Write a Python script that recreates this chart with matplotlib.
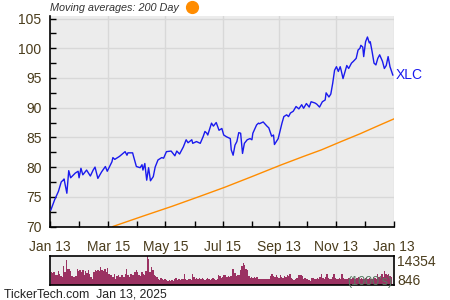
import numpy as np
import matplotlib
matplotlib.use("Agg")
import matplotlib.pyplot as plt
from matplotlib.lines import Line2D

plt.rcParams['font.family'] = ['Liberation Sans', 'DejaVu Sans']

# price trace: day offset from Jan 13 2024, close
price_days = [1, 5, 9, 12, 14, 15, 18, 20, 22, 27, 30, 31, 33, 35, 39, 43, 46, 48, 51, 55,
              59, 61, 66, 67, 69, 74, 80, 82, 83, 88, 89, 92, 96, 98, 99, 101, 103, 105, 107, 110,
              112, 115, 119, 121, 124, 129, 133, 135, 138, 142, 145, 147, 151, 152, 156, 160, 163, 165, 167, 168,
              172, 174, 177, 180, 183, 185, 188, 192, 193, 195, 197, 199, 201, 203, 205, 207, 210, 213, 215, 216,
              220, 222, 223, 227, 231, 233, 236, 238, 239, 243, 247, 249, 252, 254, 256, 259, 262, 265, 268, 270,
              273, 276, 278, 282, 284, 287, 290, 293, 294, 297, 299, 301, 303, 305, 307, 309, 310, 312, 315, 316,
              318, 321, 323, 326, 328, 330, 331, 333, 334, 336, 338, 340, 341, 343, 345, 347, 349, 351, 354, 356,
              358, 360, 362, 365]
price = [72.8, 74.5, 75.9, 77.5, 77.8, 78.0, 75.6, 79.4, 78.2, 79.0, 79.3, 78.2, 79.8, 78.7, 79.5, 78.5, 79.5, 80.0, 78.1, 79.2,
         80.1, 79.3, 80.9, 81.6, 81.3, 81.8, 82.6, 82.0, 82.4, 82.4, 81.8, 80.1, 79.9, 80.4, 79.5, 80.6, 77.8, 79.9, 77.7, 78.4,
         80.0, 81.2, 81.6, 81.5, 82.6, 82.7, 81.9, 82.7, 82.2, 83.4, 84.6, 84.1, 84.6, 84.0, 84.3, 84.0, 85.1, 86.0, 85.7, 85.4,
         87.4, 86.9, 87.5, 86.2, 86.5, 85.4, 85.1, 84.8, 82.9, 82.0, 83.7, 84.3, 85.8, 85.7, 82.3, 84.0, 84.6, 84.8, 84.6, 85.7,
         87.1, 87.4, 87.3, 87.6, 86.9, 86.6, 85.2, 85.4, 83.8, 84.8, 87.4, 88.5, 88.8, 88.5, 89.1, 89.4, 90.2, 89.8, 90.5, 89.9,
         90.7, 90.1, 91.0, 90.8, 90.6, 90.1, 91.0, 91.3, 92.5, 91.8, 92.3, 94.1, 96.3, 96.9, 96.1, 96.9, 96.3, 94.9, 96.6, 97.1,
         96.6, 97.5, 97.8, 98.3, 99.7, 100.0, 100.5, 100.2, 98.6, 101.1, 101.9, 100.9, 101.1, 99.4, 97.5, 97.2, 98.3, 98.9, 97.8, 96.6,
         97.1, 98.6, 96.9, 95.5]

# 200 day moving average
ma_days = [67, 100, 130, 160, 186, 215, 245, 270, 289, 310, 330, 350, 366]
ma = [70.0, 71.8, 73.4, 75.1, 76.6, 78.4, 80.3, 81.8, 82.9, 84.3, 85.6, 87.0, 88.1]

# daily volume, thousands
volume = [6600, 6300, 6600, 5300, 5300, 6900, 5700, 4600, 4200, 9600, 6600, 12500, 8200, 7900, 6900, 4600,
          4200, 4200, 4600, 7900, 6900, 7500, 6600, 7500, 5300, 6900, 6300, 7500, 5700, 4200, 3300, 6600,
          7500, 6900, 7500, 7000, 9000, 7500, 6900, 7900, 6600, 8600, 5700, 4900, 5300, 4200, 5700, 3300,
          4600, 5300, 4200, 5300, 4900, 4200, 5700, 8200, 4900, 4200, 5700, 5300, 4900, 6600, 7500, 6600,
          4900, 4600, 6600, 5700, 5300, 6900, 14354, 13200, 6600, 9000, 7500, 4900, 4600, 4200, 3300, 2400,
          3600, 3000, 2400, 3000, 2400, 1900, 2400, 1900, 2400, 1900, 3000, 3600, 2400, 3000, 2400, 3300,
          3000, 5700, 3300, 2400, 3300, 3000, 2400, 5700, 4200, 3000, 3600, 3300, 3600, 3000, 3600, 3300,
          2400, 3300, 3600, 3000, 2400, 3300, 3600, 3000, 2400, 3300, 5300, 4600, 3600, 4200,
          4900, 5300, 4200, 4600, 4200, 4600, 8200, 7900, 6300, 4600, 5300, 4900, 7500, 9600, 11200, 9900,
          7900, 7500, 4600, 3600, 4200, 3600, 4200, 3600, 4200, 3300, 3000, 3300, 3000, 3300, 3000, 3300,
          3000, 3300, 4600, 5700, 4600, 4200, 4900, 4200, 3600, 5300, 4200, 3600, 4600, 4200, 5300, 4600,
          5700, 3600, 3000, 2400, 3300, 3600, 4900, 4900, 4900, 4600, 3000, 3600, 3000, 3300, 2400, 1900,
          3600, 3600, 3000,
          3300, 3600, 3000, 4200, 5500, 3600, 3300, 4200, 5500, 3600, 3000, 3300, 4200, 5500, 3600, 3300,
          3000, 3600, 3300, 5500, 3600, 3000, 3300, 3000, 3600, 3300, 3000, 3600, 3300, 3000, 3600, 4200,
          3300, 3600, 3000, 3300, 3600, 4200, 3300, 3600, 3000, 3300, 4200, 3600, 3300, 5500, 4200, 3600,
          5500, 4200, 7000, 5700, 4900, 5500, 4600, 4200, 846]

tick_days = [0, 62, 123, 184, 244, 305, 366]
tick_labels = ['Jan 13', 'Mar 15', 'May 15', 'Jul 15', 'Sep 13', 'Nov 13', 'Jan 13']
minor_days = [31, 93, 154, 215, 274, 335]

label_col = '#4a3c1c'

fig = plt.figure(figsize=(4.5, 3), dpi=100)
ax = fig.add_axes([0.111, 0.243, 0.764, 0.703])
ax.set_facecolor('#ececec')
ax.plot(price_days, price, color='#1a1aee', lw=1.0, zorder=3)
ax.plot(ma_days, ma, color='#ff8c00', lw=1.0, zorder=2)
ax.set_xlim(0, 366)
ax.set_ylim(69.9, 105.4)
ax.set_yticks([70, 75, 80, 85, 90, 95, 100, 105])
ax.set_yticks([72.5, 77.5, 82.5, 87.5, 92.5, 97.5, 102.5], minor=True)
ax.set_xticks(tick_days)
ax.set_xticklabels(tick_labels)
ax.set_xticks(minor_days, minor=True)
ax.grid(True, which='major', color='#d8d8d8', lw=1.0)
ax.set_axisbelow(True)
for s in ['top', 'right']:
    ax.spines[s].set_visible(False)
for s in ['left', 'bottom']:
    ax.spines[s].set_color('black')
    ax.spines[s].set_linewidth(1.2)
ax.tick_params(axis='both', which='both', direction='in', length=4, width=1, colors='black',
               labelcolor=label_col, labelsize=10)
ax.tick_params(axis='x', pad=9)
ax.tick_params(axis='y', pad=6)
ax.text(366 + 2, price[-1], 'XLC', color='#1a1aee', fontsize=10, va='center', ha='left', clip_on=False)

# legend line at the top
fig.text(0.111, 0.972, 'Moving averages: 200 Day', fontsize=7.8, style='italic', color='#333333',
         va='center', ha='left')
fig.add_artist(Line2D([0.427], [0.976], marker='o', ms=8.5, color='#ff8c00', lw=0,
                      transform=fig.transFigure))

vax = fig.add_axes([0.111, 0.049, 0.764, 0.097])
vax.set_facecolor('#ececec')
n = len(volume)
vpos = np.linspace(1.5, 365, n)
vax.bar(vpos, volume, width=366 / n, color='#9b3262', edgecolor='none', align='center')
vax.set_xlim(0, 366)
vax.set_ylim(0, 14400)
vax.set_xticks([])
vax.set_yticks([])
for s in vax.spines.values():
    s.set_color('black')
    s.set_linewidth(1.2)
vax.text(0.995, 0.1, "(1000's)", transform=vax.transAxes, ha='right', va='center',
         fontsize=9, color='#587a62')
fig.text(0.883, 0.125, '14354', fontsize=10, color=label_col, va='center', ha='left')
fig.text(0.883, 0.062, '846', fontsize=10, color=label_col, va='center', ha='left')

fig.text(0.01, 0.018, 'TickerTech.com  Jan 13, 2025', fontsize=8.8, color='#222222',
         va='center', ha='left')

fig.savefig('out.png', dpi=100)
